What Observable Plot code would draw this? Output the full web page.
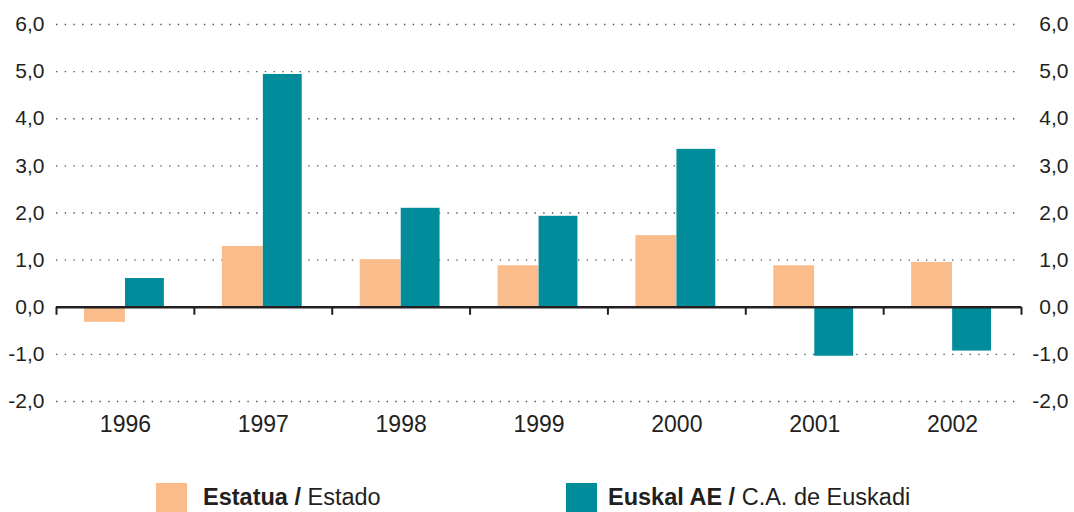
<!DOCTYPE html>
<html><head><meta charset="utf-8">
<script src="https://cdn.jsdelivr.net/npm/d3@7"></script>
<script src="https://cdn.jsdelivr.net/npm/@observablehq/plot@0.6"></script>
<style>
body{margin:0;background:#fff;font-family:"Liberation Sans",Arial,Helvetica,sans-serif;color:#231f20;overflow:hidden}
#legend{position:relative;height:51px;width:1074px}
.sw{position:absolute;width:31px;height:30px;top:22px}
.lt{position:absolute;top:25px;font-size:23.5px;line-height:23.5px;white-space:nowrap}
.lt b{font-weight:bold}
</style></head><body><div id="chart"></div><div id="legend"></div>
<script>
const years = ["1996", "1997", "1998", "1999", "2000", "2001", "2002"];
const estatua = [-0.32, 1.29, 1.01, 0.88, 1.52, 0.88, 0.95];
const euskadi = [0.61, 4.94, 2.10, 1.93, 3.35, -1.04, -0.93];
const seriesBold = ["Estatua /", "Euskal AE /"];
const seriesRegular = ["Estado", "C.A. de Euskadi"];
const colors = ["#f9bc8a", "#008c9a"];
const yTicks = [-2, -1, 0, 1, 2, 3, 4, 5, 6];

const W = 1074, mL = 56, mR = 53;
const step = (W - mL - mR) / years.length;
const estRows = years.map((y, i) => ({year: y, value: estatua[i]}));
const eusRows = years.map((y, i) => ({year: y, value: euskadi[i]}));
const fmt = d => d.toFixed(1).replace(".", ",");
const ink = "#231f20";

const chart = Plot.plot({
  width: W,
  height: 461,
  marginLeft: mL,
  marginRight: mR,
  marginTop: 24,
  marginBottom: 60,
  style: {fontFamily: '"Liberation Sans", Arial, Helvetica, sans-serif', color: ink, background: "#fff"},
  x: {domain: years, padding: 0, round: false, label: null},
  y: {domain: [-2, 6], label: null},
  marks: [
    Plot.ruleY(yTicks.filter(t => t !== 0), {stroke: "#555", strokeWidth: 1.4, strokeDasharray: "1.4 7.3"}),
    Plot.barY(estRows, {x: "year", y: "value", fill: colors[0], insetLeft: 28, insetRight: 69}),
    Plot.barY(eusRows, {x: "year", y: "value", fill: colors[1], insetLeft: 69, insetRight: 30}),
    Plot.ruleY([0], {stroke: ink, strokeWidth: 2.5}),
    Plot.ruleX(years, {x: d => d, dx: -step / 2, y1: 0, y2: -0.17, stroke: ink, strokeWidth: 2}),
    Plot.ruleX([years[years.length - 1]], {x: d => d, dx: step / 2, y1: 0, y2: -0.17, stroke: ink, strokeWidth: 2}),
    Plot.axisX({anchor: "bottom", tickSize: 0, tickPadding: 14, fontSize: 23, label: null}),
    Plot.axisY({anchor: "left", ticks: yTicks, tickFormat: fmt, tickSize: 0, tickPadding: 12, fontSize: 21, label: null}),
    Plot.axisY({anchor: "right", ticks: yTicks, tickFormat: fmt, tickSize: 0, tickPadding: 47, textAnchor: "end", fontSize: 21, label: null})
  ]
});
document.getElementById("chart").appendChild(chart);

const legend = document.getElementById("legend");
const swX = [156, 566];
const txX = [203, 608];
seriesBold.forEach((b, i) => {
  const sw = document.createElement("div");
  sw.className = "sw";
  sw.style.left = swX[i] + "px";
  sw.style.background = colors[i];
  legend.appendChild(sw);
  const t = document.createElement("div");
  t.className = "lt";
  t.style.left = txX[i] + "px";
  const bb = document.createElement("b");
  bb.textContent = b;
  t.appendChild(bb);
  t.appendChild(document.createTextNode(" " + seriesRegular[i]));
  legend.appendChild(t);
});
</script></body></html>
